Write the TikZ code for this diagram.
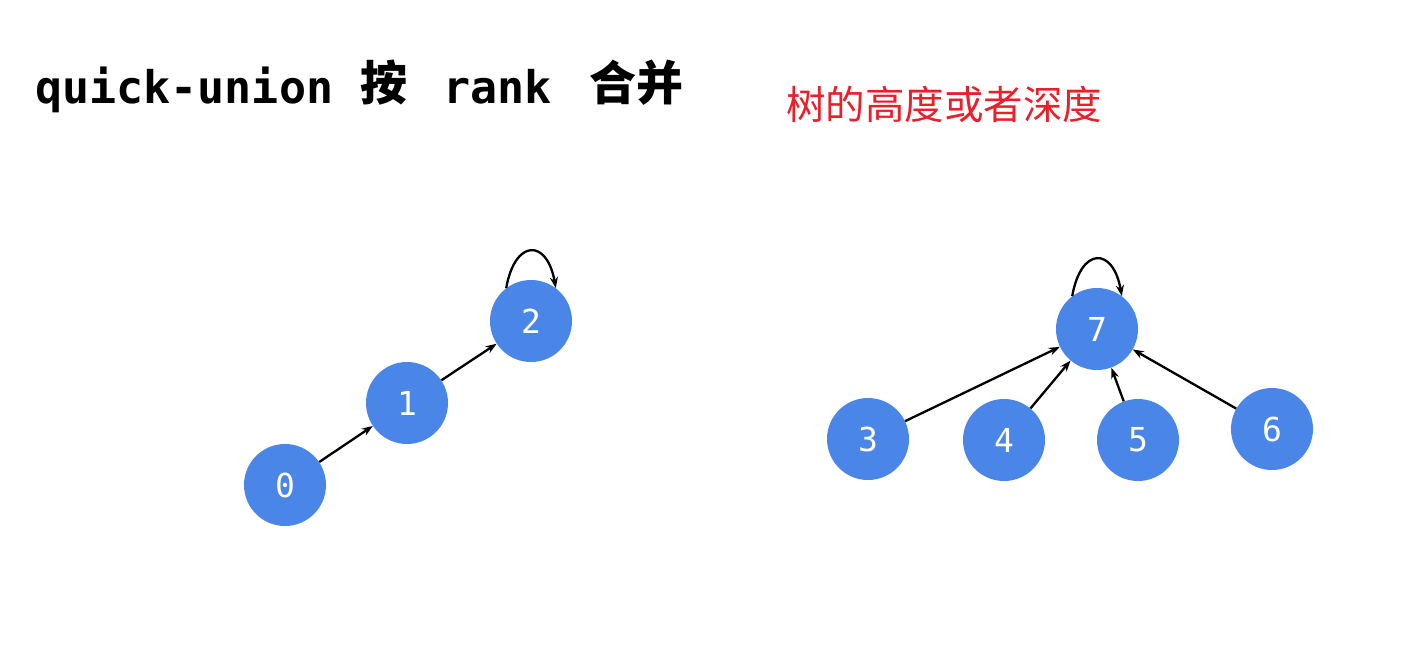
\documentclass[tikz,border=0pt]{standalone}
\usepackage{fontspec}
\usepackage{tikz}
\usepackage{xcolor}
\usetikzlibrary{arrows.meta,positioning,calc}
\setmonofont{DejaVu Sans Mono}
\newfontfamily\cjk{Noto Sans CJK SC}
\definecolor{nodeblue}{HTML}{4A86E8}
\definecolor{notered}{HTML}{E8202A}
\tikzset{
  vert/.style={circle, fill=nodeblue, minimum size=82pt, inner sep=0pt,
    text=white, font=\ttfamily\fontsize{33}{33}\selectfont},
  link/.style={-{Stealth[length=11pt,width=8pt]}, line width=2.3pt},
  head/.style={anchor=base west, inner sep=0pt,
    font=\ttfamily\bfseries\fontsize{45}{45}\selectfont},
  headcjk/.style={anchor=base west, inner sep=0pt,
    font=\cjk\bfseries\fontsize{47}{47}\selectfont},
}
\begin{document}
\begin{tikzpicture}[x=1pt,y=-1pt]
\useasboundingbox (0,0) rectangle (1422,649);
% title, piece by piece
\node[head] (title) at (35,103) {quick-union};
\node[headcjk] (titleA) at (360,100) {按};
\node[head] (titleB) at (443,103) {rank};
\node[headcjk] (titleC) at (589,100) {合并};
\node[anchor=west, inner sep=0pt, text=notered] (note) at (786,104)
  {\cjk\fontsize{39.5}{39.5}\selectfont 树的高度或者深度};
% left tree: a chain
\foreach \n/\x/\y in {0/285/485,1/407/403,2/531/321}
  \node[vert] (n\n) at (\x,\y) {\n};
% right tree: a star
\foreach \n/\x/\y in {7/1097/329,3/868/439,4/1004/440,5/1138/440,6/1272/429}
  \node[vert] (n\n) at (\x,\y) {\n};
\foreach \a/\b in {0/1,1/2,3/7,4/7,5/7,6/7}
  \draw[link] (n\a) -- (n\b);
\foreach \r in {2,7}
  \draw[link] (n\r.127) to[out=80,in=100,looseness=2.6] (n\r.53);
\end{tikzpicture}
\end{document}
